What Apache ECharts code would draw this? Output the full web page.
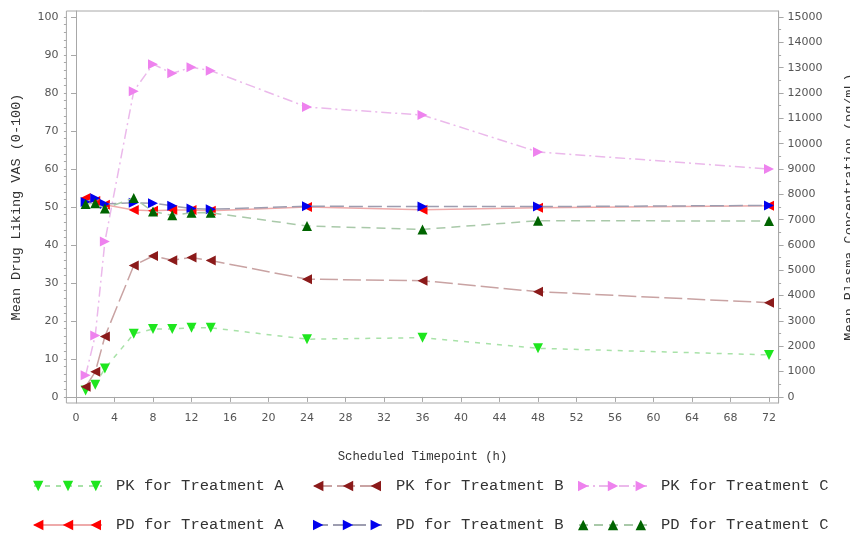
<!DOCTYPE html>
<html><head><meta charset="utf-8">
<script src="https://cdn.jsdelivr.net/npm/echarts@6/dist/echarts.min.js"></script>
<style>html,body{margin:0;padding:0;background:#fff;}#c{width:850px;height:537px;}</style>
</head><body><div id="c"></div>
<script>
// ---- data ----
var times = [1, 2, 3, 6, 8, 10, 12, 14, 24, 36, 48, 72];
var pkA = [255, 480, 1125, 2490, 2685, 2685, 2730, 2730, 2280, 2340, 1920, 1660];
var pkB = [405, 990, 2385, 5190, 5565, 5400, 5505, 5385, 4650, 4590, 4155, 3720];
var pkC = [855, 2430, 6135, 12075, 13140, 12780, 13020, 12885, 11445, 11130, 9675, 9000];
var pdA = [52.4, 51.6, 50.6, 49.2, 49.0, 49.2, 49.2, 49.0, 50.0, 49.3, 49.8, 50.3];
var pdB = [51.3, 52.3, 50.8, 51.1, 51.0, 50.3, 49.6, 49.4, 50.2, 50.1, 50.1, 50.4];
var pdC = [50.8, 51.0, 49.6, 52.4, 48.8, 47.8, 48.5, 48.5, 45.0, 44.1, 46.4, 46.3];
var seriesNames = ['PK for Treatment A', 'PK for Treatment B', 'PK for Treatment C',
                   'PD for Treatment A', 'PD for Treatment B', 'PD for Treatment C'];
var xTicks = [0, 4, 8, 12, 16, 20, 24, 28, 32, 36, 40, 44, 48, 52, 56, 60, 64, 68, 72];
var leftTicks = [0, 10, 20, 30, 40, 50, 60, 70, 80, 90, 100];
var rightTicks = [0, 1000, 2000, 3000, 4000, 5000, 6000, 7000, 8000, 9000, 10000, 11000, 12000, 13000, 14000, 15000];
var xTitle = 'Scheduled Timepoint (h)';
var leftTitle = 'Mean Drug Liking VAS (0-100)';
var rightTitle = 'Mean Plasma Concentration (pg/mL)';

// ---- styling ----
var S = 10.4;
var shapes = {
  down: 'path://M0,0L10,0L5,10Z',
  left: 'path://M10,0L10,10L0,5Z',
  right: 'path://M0,0L10,5L0,10Z',
  up: 'path://M0,10L5,0L10,10Z'
};
function pair(kind) {
  var a = S, w = 68, h = S, m = S / 2;
  var o = w - a;
  if (kind === 'down') return 'path://M0,0L' + a + ',0L' + m + ',' + h + 'ZM' + o + ',0L' + w + ',0L' + (o + m) + ',' + h + 'Z';
  if (kind === 'left') return 'path://M' + a + ',0L' + a + ',' + h + 'L0,' + m + 'ZM' + w + ',0L' + w + ',' + h + 'L' + o + ',' + m + 'Z';
  if (kind === 'right') return 'path://M0,0L' + a + ',' + m + 'L0,' + h + 'ZM' + o + ',0L' + w + ',' + m + 'L' + o + ',' + h + 'Z';
  return 'path://M0,' + h + 'L' + m + ',0L' + a + ',' + h + 'ZM' + o + ',' + h + 'L' + (o + m) + ',0L' + w + ',' + h + 'Z';
}
var defs = [
  {data: pkA, axis: 1, shape: 'down', color: '#1ee61e', line: '#a8e2a8', type: [5, 6]},
  {data: pkB, axis: 1, shape: 'left', color: '#8b1a1a', line: '#c9a3a3', type: [18, 5]},
  {data: pkC, axis: 1, shape: 'right', color: '#ee82ee', line: '#ebb9eb', type: [10, 4, 2, 4]},
  {data: pdA, axis: 0, shape: 'left', color: '#ff0000', line: '#eeaaaa', type: 'solid'},
  {data: pdB, axis: 0, shape: 'right', color: '#0000ee', line: '#9d9db0', type: [14, 5]},
  {data: pdC, axis: 0, shape: 'up', color: '#006400', line: '#a9c9a9', type: [9, 6]}
];

var series = defs.map(function (d, i) {
  return {
    name: seriesNames[i], type: 'line', yAxisIndex: d.axis,
    data: times.map(function (t, k) { return [t, d.data[k]]; }),
    symbol: shapes[d.shape], symbolSize: 10,
    itemStyle: {color: d.color},
    lineStyle: {color: d.line, width: 1.5, type: d.type},
    z: 3 + i
  };
});

var colLeft = [33, 313, 578];
var rowTop = [478, 517];
var legends = [];
var legendFont = {fontFamily: 'Liberation Mono', fontSize: 15.5, color: '#333', padding: [0, 0, 0, 9]};
seriesNames.forEach(function (n, i) {
  var r = Math.floor(i / 3), c = i % 3;
  legends.push({
    left: colLeft[c], top: rowTop[r], padding: 0, itemWidth: 68, itemHeight: 13,
    selectedMode: false, data: [n], textStyle: legendFont
  });
  legends.push({
    left: colLeft[c], top: rowTop[r], padding: 0, itemWidth: 68, itemHeight: 13,
    selectedMode: false, data: [{name: n, icon: pair(defs[i].shape)}],
    textStyle: {fontFamily: 'Liberation Mono', fontSize: 15.5, color: 'rgba(0,0,0,0)', padding: [0, 0, 0, 9]}
  });
});

var axisGray = '#a8a8a8';
var tickFont = {fontFamily: 'DejaVu Sans', fontSize: 11, color: '#555'};
function minorAxis(pos, min, max, step) {
  var vals = [];
  for (var v = 0; v <= max; v += step) vals.push(v);
  return {
    type: 'value', position: pos, min: min, max: max,
    axisLine: {show: false}, splitLine: {show: false},
    axisLabel: {show: false},
    axisTick: {show: true, length: 2.5, customValues: vals, lineStyle: {color: axisGray}}
  };
}
function plain(v) { return String(v); }

var option = {
  backgroundColor: '#fff',
  animation: false,
  grid: {left: 66.4, right: 71.4, top: 11, bottom: 134, show: true, borderColor: axisGray, borderWidth: 1,
         containLabel: false, outerBoundsMode: 'none'},
  legend: legends,
  xAxis: {
    type: 'value', min: -1, max: 73,
    name: xTitle, nameLocation: 'middle', nameGap: 48,
    nameTextStyle: {fontFamily: 'Liberation Mono', fontSize: 12.3, color: '#333'},
    axisLine: {lineStyle: {color: axisGray}},
    axisTick: {customValues: xTicks, length: 5, lineStyle: {color: axisGray}},
    axisLabel: Object.assign({customValues: xTicks, margin: 10, formatter: plain}, tickFont),
    splitLine: {show: false}
  },
  yAxis: [
    {
      type: 'value', position: 'left', min: -1.6, max: 101.6,
      name: leftTitle, nameLocation: 'middle', nameGap: 43,
      nameTextStyle: {fontFamily: 'Liberation Mono', fontSize: 13.5, color: '#333'},
      axisLine: {show: true, lineStyle: {color: axisGray}},
      axisTick: {show: true, customValues: leftTicks, length: 5, lineStyle: {color: axisGray}},
      axisLabel: Object.assign({customValues: leftTicks, margin: 8, formatter: plain}, tickFont),
      splitLine: {show: false}
    },
    {
      type: 'value', position: 'right', min: -240, max: 15240,
      name: rightTitle, nameLocation: 'middle', nameGap: 64, nameRotate: 90,
      nameTextStyle: {fontFamily: 'Liberation Mono', fontSize: 13.5, color: '#333'},
      axisLine: {show: true, lineStyle: {color: axisGray}},
      axisTick: {show: true, customValues: rightTicks, length: 5, lineStyle: {color: axisGray}},
      axisLabel: Object.assign({customValues: rightTicks, margin: 9, formatter: plain}, tickFont),
      splitLine: {show: false}
    },
    minorAxis('left', -1.6, 101.6, 2),
    minorAxis('right', -240, 15240, 500)
  ],
  series: series
};
var chart = echarts.init(document.getElementById('c'), null, {renderer: 'canvas'});
chart.setOption(option);
</script>
</body></html>
